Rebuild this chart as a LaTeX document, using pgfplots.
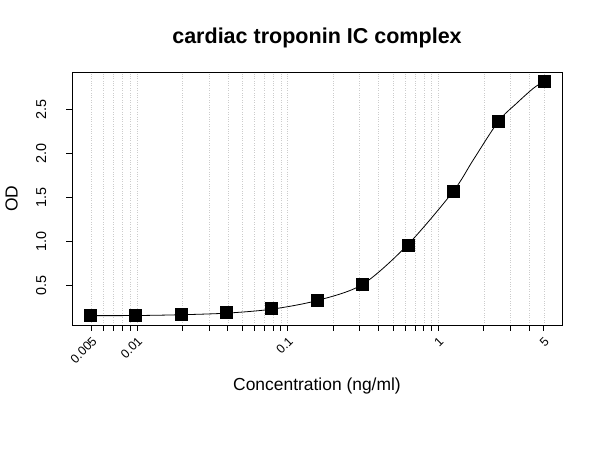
\documentclass[border=0pt]{standalone}
\usepackage{pgfplots}
\pgfplotsset{compat=1.18}
\usepackage{fontspec}
\setmainfont{Liberation Sans}
\begin{document}
\begin{tikzpicture}[x=1bp,y=1bp]
\useasboundingbox (0,0) rectangle (600,450);
\begin{axis}[
  at={(72bp,125bp)}, anchor=south west,
  width=490bp, height=253bp, scale only axis,
  xmode=log, log basis x=10,
  xmin=0.0037009, xmax=6.5993,
  ymin=0.0557, ymax=2.926,
  axis line style={line width=0.9pt},
  tick align=outside,
  tick style={black, line width=0.8pt},
  major tick length=6bp, minor tick length=6bp,
  xtick={0.005,0.01,0.1,1,5},
  xticklabels={0.005,0.01,0.1,1,5},
  minor xtick={0.006,0.007,0.008,0.009,0.02,0.03,0.04,0.05,0.06,0.07,0.08,0.09,0.2,0.3,0.4,0.5,0.6,0.7,0.8,0.9,2,3,4},
  xtick pos=bottom, ytick pos=left,
  xmajorgrids, xminorgrids,
  major grid style={gray!40, dotted, line width=0.6pt},
  minor grid style={gray!40, dotted, line width=0.6pt},
  ytick={0.5,1.0,1.5,2.0,2.5},
  yticklabels={0.5,1.0,1.5,2.0,2.5},
  xticklabel style={font=\fontsize{12.5}{14}\selectfont, inner sep=0pt, xshift=3bp, yshift=-8bp, rotate=45, anchor=east},
  yticklabel style={font=\fontsize{14.4}{16}\selectfont, inner sep=0pt, xshift=-20bp, rotate=90, anchor=base},
]
% fitted curve
\addplot[black, line width=0.8pt, smooth, mark=none] table {
x y
0.0048828 0.162
0.0097656 0.163
0.0195313 0.172
0.0390625 0.190
0.078125 0.235
0.15625 0.333
0.3125 0.515
0.625 0.966
1.25 1.57
1.70 1.928
2.5 2.367
3.30 2.571
4.26 2.741
5 2.82
};
\addplot[only marks, mark=square*, mark size=6bp, black] table {
x y
0.0048828 0.162
0.0097656 0.163
0.0195313 0.180
0.0390625 0.197
0.078125 0.242
0.15625 0.333
0.3125 0.515
0.625 0.966
1.25 1.57
2.5 2.367
5 2.82
};
\end{axis}
\node[anchor=base, font=\bfseries\fontsize{21.6}{24}\selectfont] at (317,406) {cardiac troponin IC complex};
\node[anchor=base, font=\fontsize{17.5}{20}\selectfont] at (317,59) {Concentration (ng/ml)};
\node[anchor=base, rotate=90, font=\fontsize{17.5}{20}\selectfont] at (17.5,251.5) {OD};
\end{tikzpicture}
\end{document}
